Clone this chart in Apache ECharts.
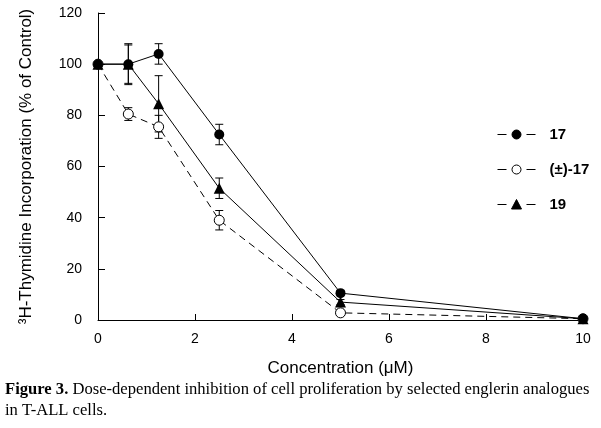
<!DOCTYPE html>
<html>
<head>
<meta charset="utf-8">
<script src="https://cdn.jsdelivr.net/npm/echarts@6/dist/echarts.min.js"></script>
<style>
  html, body { margin: 0; padding: 0; background: #fff; }
  #chart { width: 601px; height: 428px; }
</style>
</head>
<body>
<div id="chart"></div>
<script>
// concentrations (uM)
const conc = [0, 0.625, 1.25, 2.5, 5, 10];
// % of control
const s17 = [100, 100, 104, 72.5, 10.5, 0.5];
const s17err = [0, 8, 4, 4, 1, 0.5];
const sRac = [100, 80.5, 75.5, 39, 2.8, 0.5];
const sRacErr = [0, 2.5, 4.5, 3.8, 1, 0];
const s19 = [100, 100, 84.5, 51.5, 7, 0.5];
const s19err = [0, 7.5, 11, 4, 1, 0];
const names = ['17', '(\u00b1)-17', '19'];

const pts = (ys) => conc.map((x, i) => [x, ys[i]]);
const errPts = (ys, es) => conc.map((x, i) => [x, ys[i] - es[i], ys[i] + es[i]]);

function errorBars(ys, es) {
    return {
        type: 'custom',
        z: 1,
        silent: true,
        data: errPts(ys, es),
        renderItem: (params, api) => {
            const lo = api.coord([api.value(0), api.value(1)]);
            const hi = api.coord([api.value(0), api.value(2)]);
            const w = 4;
            const st = { stroke: '#000', lineWidth: 1 };
            return {
                type: 'group',
                children: [
                    { type: 'line', shape: { x1: lo[0], y1: lo[1], x2: hi[0], y2: hi[1] }, style: st },
                    { type: 'line', shape: { x1: lo[0] - w, y1: lo[1], x2: lo[0] + w, y2: lo[1] }, style: st },
                    { type: 'line', shape: { x1: hi[0] - w, y1: hi[1], x2: hi[0] + w, y2: hi[1] }, style: st }
                ]
            };
        }
    };
}

// legend icons: short dash, marker, short dash
const dashes = 'M0 5.5 L9 5.5 M29 5.5 L38 5.5 ';
const circleIcon = 'path://' + dashes + 'M14.5 5.5 A4.5 4.5 0 1 1 23.5 5.5 A4.5 4.5 0 1 1 14.5 5.5 Z M0 0 M38 11';
const triIcon = 'path://' + dashes + 'M19 0.5 L24 10 L14 10 Z M0 0 M38 11';

const myChart = echarts.init(document.getElementById('chart'));
const font = '"Liberation Sans", Arial, sans-serif';
const serif = '"Liberation Serif", "Times New Roman", serif';
const option = {
    animation: false,
    backgroundColor: '#fff',
    textStyle: { fontFamily: font, color: '#000' },
    grid: { left: 98, right: 18, top: 13, bottom: 108 },
    title: [{
        left: 5,
        top: 379,
        padding: 0,
        text: '{b|Figure 3.} Dose-dependent inhibition of cell proliferation by selected englerin analogues\nin T-ALL cells.',
        textStyle: {
            fontFamily: serif,
            fontSize: 16.6,
            fontWeight: 'normal',
            color: '#000',
            lineHeight: 21,
            rich: {
                b: { fontFamily: serif, fontSize: 16.6, fontWeight: 'bold', color: '#000', lineHeight: 21 }
            }
        }
    }],
    legend: {
        orient: 'vertical',
        left: 497,
        top: 127,
        padding: 0,
        itemWidth: 38,
        itemHeight: 11,
        itemGap: 20,
        data: [
            { name: names[0], icon: circleIcon, itemStyle: { color: '#000', borderColor: '#000', borderWidth: 1 } },
            { name: names[1], icon: circleIcon, itemStyle: { color: '#fff', borderColor: '#000', borderWidth: 1 } },
            { name: names[2], icon: triIcon, itemStyle: { color: '#000', borderColor: '#000', borderWidth: 1 } }
        ],
        textStyle: { fontFamily: font, fontSize: 15, fontWeight: 'bold', color: '#000', padding: [0, 0, 0, 9] }
    },
    xAxis: {
        type: 'value',
        min: 0,
        max: 10,
        interval: 2,
        name: 'Concentration (\u03bcM)',
        nameLocation: 'middle',
        nameGap: 40,
        nameTextStyle: { fontFamily: font, fontSize: 17, color: '#000' },
        splitLine: { show: false },
        axisLine: { lineStyle: { color: '#000', width: 1 } },
        axisTick: { inside: true, length: 6, lineStyle: { color: '#000' } },
        axisLabel: { fontFamily: font, fontSize: 14, color: '#000', margin: 12 }
    },
    yAxis: {
        type: 'value',
        min: 0,
        max: 120,
        interval: 20,
        name: '\u00b3H-Thymidine Incorporation (% of Control)',
        nameLocation: 'middle',
        nameRotate: 90,
        nameGap: 63,
        nameTextStyle: { fontFamily: font, fontSize: 17, color: '#000' },
        splitLine: { show: false },
        axisLine: { show: true, lineStyle: { color: '#000', width: 1 } },
        axisTick: { show: true, inside: true, length: 7, lineStyle: { color: '#000' } },
        axisLabel: { fontFamily: font, fontSize: 14, color: '#000', margin: 16 }
    },
    series: [
        errorBars(sRac, sRacErr),
        errorBars(s19, s19err),
        errorBars(s17, s17err),
        {
            name: names[1],
            type: 'line',
            z: 3,
            data: pts(sRac),
            symbol: 'circle',
            symbolSize: 10,
            itemStyle: { color: '#fff', borderColor: '#000', borderWidth: 1 },
            lineStyle: { color: '#000', width: 1, type: [7, 5] }
        },
        {
            name: names[2],
            type: 'line',
            z: 3,
            data: pts(s19),
            symbol: 'triangle',
            symbolSize: 11,
            itemStyle: { color: '#000' },
            lineStyle: { color: '#000', width: 1 }
        },
        {
            name: names[0],
            type: 'line',
            z: 3,
            data: pts(s17),
            symbol: 'circle',
            symbolSize: 10,
            itemStyle: { color: '#000' },
            lineStyle: { color: '#000', width: 1 }
        }
    ]
};
myChart.setOption(option);
</script>
</body>
</html>
